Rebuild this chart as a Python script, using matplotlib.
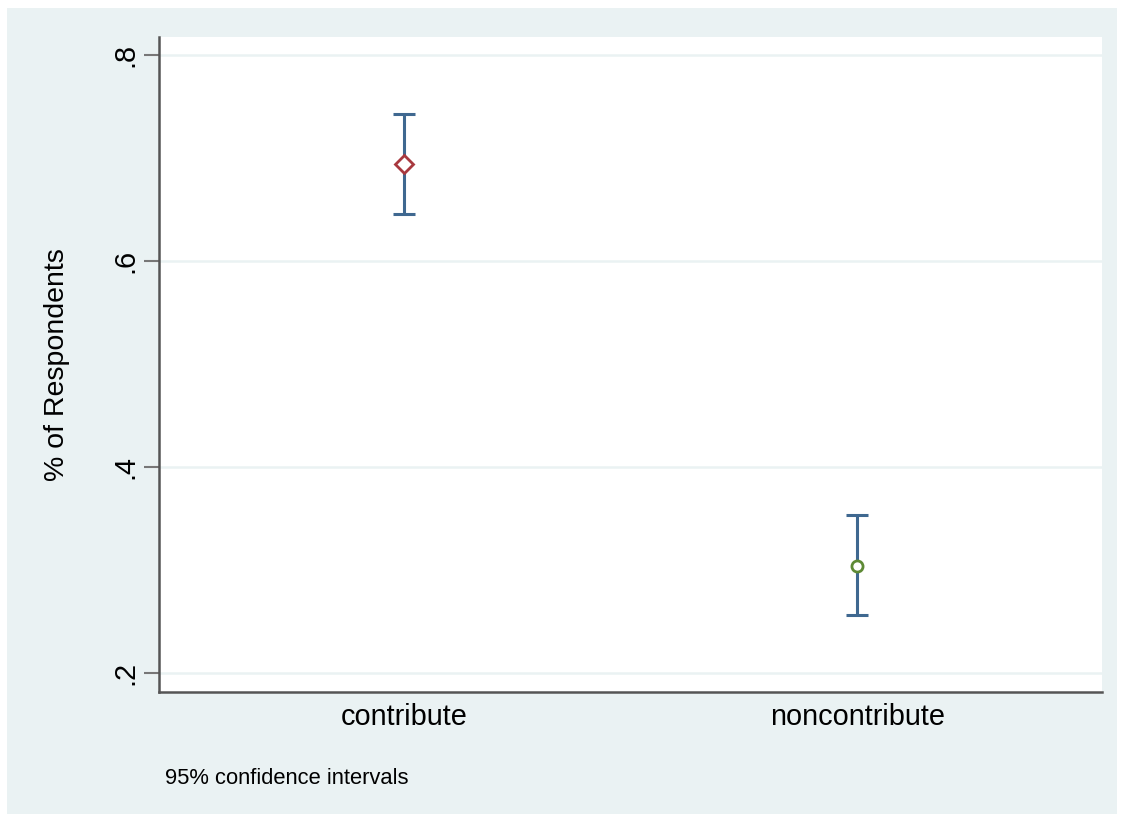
import matplotlib
matplotlib.use("Agg")
import matplotlib.pyplot as plt
from matplotlib.patches import Rectangle

plt.rcParams['font.family'] = ['Liberation Sans', 'DejaVu Sans']

groups = ["contribute", "noncontribute"]
means = [0.694, 0.304]
ci_low = [0.646, 0.256]
ci_high = [0.743, 0.353]
yticks = [0.2, 0.4, 0.6, 0.8]
ytick_labels = [".2", ".4", ".6", ".8"]
marker_styles = ["D", "o"]
marker_colors = ["#A8393F", "#5E8A35"]
bar_color = "#3F6890"
bg = "#EAF2F3"

W, H = 1124, 821
fig = plt.figure(figsize=(W / 100, H / 100), dpi=100)
fig.patch.set_facecolor("white")
fig.patches.append(Rectangle((7 / W, 1 - 814 / H), (1117 - 7) / W, (814 - 8) / H,
                             transform=fig.transFigure, facecolor=bg, edgecolor="none", zorder=-10))

ax = fig.add_axes([159 / W, 1 - 692 / H, (1102 - 159) / W, (692 - 37) / H], zorder=1)
ax.set_facecolor("white")

x = [1, 2]
for i, g in enumerate(groups):
    ax.errorbar(x[i], means[i], yerr=[[means[i] - ci_low[i]], [ci_high[i] - means[i]]],
                fmt="none", ecolor=bar_color, elinewidth=2.2, capsize=8, capthick=2.2, zorder=3)
    ms = 9 if marker_styles[i] == "D" else 8
    ax.plot(x[i], means[i], marker=marker_styles[i], markersize=ms, markerfacecolor="white",
            markeredgecolor=marker_colors[i], markeredgewidth=2, linestyle="none", zorder=4)

ax.set_xlim(0.46, 2.54)
ax.set_ylim(0.1816, 0.8175)
ax.set_xticks(x)
ax.set_xticklabels(groups, fontsize=20.8)
ax.set_yticks(yticks)
ax.set_yticklabels(ytick_labels, fontsize=20.8, rotation=90, va="center")
ax.tick_params(axis="x", length=0, pad=8)
ax.tick_params(axis="y", length=11, width=1.5, color="#777777", pad=3)
ax.grid(axis="y", color=bg, linewidth=1.8, zorder=0)
ax.set_axisbelow(True)
for s in ["top", "right"]:
    ax.spines[s].set_visible(False)
for s in ["left", "bottom"]:
    ax.spines[s].set_color("#555555")
    ax.spines[s].set_linewidth(1.8)
ax.set_ylabel("% of Respondents", fontsize=20.5)
ax.yaxis.set_label_coords(-(159 - 70) / (1102 - 159), 0.5)

fig.text(165 / W, 1 - 778 / H, "95% confidence intervals", fontsize=15.8, va="center", ha="left")

fig.savefig("out.png", dpi=100, facecolor=fig.get_facecolor())
